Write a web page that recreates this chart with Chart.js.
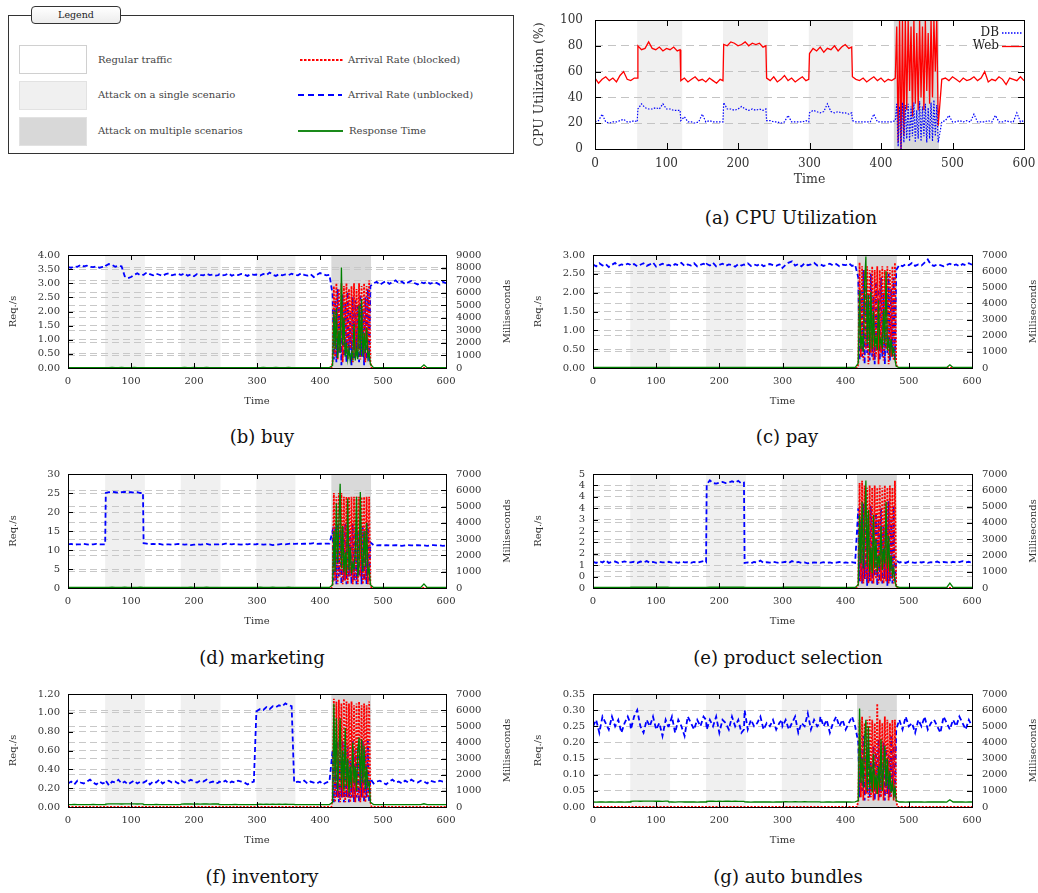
<!DOCTYPE html>
<html>
<head>
<meta charset="utf-8">
<script src="https://cdn.jsdelivr.net/npm/chart.js@4.4.1/dist/chart.umd.min.js"></script>
<style>
body { margin: 0; width: 1038px; height: 893px; position: relative; overflow: hidden; background: #fff; font-family: "DejaVu Serif", serif; color: #333; }
.abs { position: absolute; }
.cap { position: absolute; width: 320px; text-align: center; font-size: 18px; line-height: 22px; color: #111; }
.lg { position: absolute; font-size: 10px; line-height: 14px; color: #444; white-space: nowrap; }
.sw { position: absolute; left: 19px; width: 66px; height: 27px; border: 1px solid #d0d0d0; }
</style>
</head>
<body>

<!-- legend box -->
<div class="abs" style="left:8px;top:15px;width:504px;height:137px;border:1px solid #333;"></div>
<div class="abs" style="left:31px;top:6px;width:88px;height:16px;border:1px solid #333;border-radius:4px;background:linear-gradient(#fff,#ececec);font-size:9.5px;line-height:16px;text-align:center;color:#222;">Legend</div>
<div class="sw" style="top:45px;background:#fff;"></div>
<div class="sw" style="top:81px;background:#f0f0f0;border-color:#e2e2e2;"></div>
<div class="sw" style="top:117px;background:#d8d8d8;border-color:#e2e2e2;"></div>
<div class="lg" style="left:98px;top:53px;">Regular traffic</div>
<div class="lg" style="left:98px;top:88px;">Attack on a single scenario</div>
<div class="lg" style="left:98px;top:124px;">Attack on multiple scenarios</div>
<svg class="abs" style="left:296px;top:50px;" width="50" height="90">
  <line x1="4" y1="10" x2="47" y2="10" stroke="#ff0000" stroke-width="2" stroke-dasharray="2.5,1.5"/>
  <line x1="2" y1="45" x2="46" y2="45" stroke="#0000ff" stroke-width="2" stroke-dasharray="6,4"/>
  <line x1="2" y1="81" x2="47" y2="81" stroke="#1a8a1a" stroke-width="2"/>
</svg>
<div class="lg" style="left:348px;top:53px;">Arrival Rate (blocked)</div>
<div class="lg" style="left:348px;top:88px;">Arrival Rate (unblocked)</div>
<div class="lg" style="left:349px;top:124px;">Response Time</div>

<div class="cap" style="left:631px;top:207px;">(a) CPU Utilization</div>
<div class="cap" style="left:102px;top:426px;">(b) buy</div>
<div class="cap" style="left:627px;top:426px;">(c) pay</div>
<div class="cap" style="left:102px;top:647px;">(d) marketing</div>
<div class="cap" style="left:628px;top:647px;">(e) product selection</div>
<div class="cap" style="left:102px;top:866px;">(f) inventory</div>
<div class="cap" style="left:628px;top:866px;">(g) auto bundles</div>

<script>
// sample times: every 5 s (plus the second before each minute) up to 415,
// every 2 s during the multi-scenario attack, every 5 s afterwards
const T = [];
for (let m = 0; m < 6; m++) {
  for (let s = 0; s < 60; s += 5) T.push(60 * m + s);
  T.push(60 * m + 59);
}
for (let t = 360; t <= 415; t += 5) T.push(t);
for (let t = 420; t <= 480; t += 2) T.push(t);
for (let t = 485; t <= 600; t += 5) T.push(t);
// blocked traffic only exists during the multi-scenario attack
const TR = [0, 418];
for (let t = 420; t <= 480; t += 2) TR.push(t);
TR.push(482, 600);

const bandStart = [59, 179, 299, 418];
const bandEnd = [122, 242, 361, 481];
const bandMulti = [false, false, false, true];

// (a) CPU utilization
const cpuWeb = [
  55,51,54,56,53,55,52,57,60,54,53,55,55,
  80,77,78,83,78,77,79,76,78,77,79,76,77,
  53,55,52,54,56,53,54,52,55,53,51,54,53,
  81,80,83,82,80,81,83,80,82,81,82,79,80,
  55,53,56,52,54,57,53,55,52,54,56,53,54,
  74,78,76,79,75,78,77,80,76,79,81,78,79,
  56,54,53,55,52,54,56,53,55,52,54,53,
  55,95,5,100,0,100,10,100,30,100,45,95,25,100,35,90,30,100,40,95,30,100,45,90,35,100,40,100,60,100,18,
  54,55,53,56,54,52,55,53,54,56,53,55,60,52,54,53,56,54,50,55,54,53,56,53
];
const cpuDb = [
  21,22,27,21,20,21,21,22,23,21,21,22,21,
  31,35,32,31,31,32,31,35,31,31,30,30,30,
  22,25,21,21,20,21,27,21,22,21,21,21,21,
  36,31,31,30,31,33,31,30,31,30,31,30,31,
  22,22,21,21,20,21,26,21,21,21,21,22,21,
  28,30,29,28,29,35,29,28,29,28,28,27,28,
  22,21,21,21,21,21,27,21,21,21,21,21,
  22,35,2,33,0,36,5,34,8,35,6,33,10,36,5,30,8,37,6,33,10,35,5,32,8,36,6,38,10,34,5,
  21,22,26,21,21,22,21,22,21,27,21,21,21,22,21,26,21,21,22,21,21,28,21,22
];

// (b) buy
const buyUnblocked = [
  3.57,3.55,3.60,3.58,3.65,3.60,3.62,3.58,3.57,3.60,3.55,3.58,3.58,
  3.62,3.68,3.65,3.58,3.62,3.60,3.25,3.18,3.22,3.30,3.35,3.28,3.30,
  3.30,3.38,3.32,3.28,3.34,3.30,3.26,3.32,3.35,3.28,3.31,3.33,3.30,
  3.30,3.35,3.27,3.31,3.25,3.33,3.30,3.28,3.34,3.29,3.31,3.27,3.29,
  3.32,3.28,3.30,3.35,3.27,3.31,3.29,3.33,3.30,3.26,3.32,3.30,3.31,
  3.30,3.27,3.33,3.29,3.38,3.30,3.26,3.32,3.28,3.31,3.29,3.34,3.30,
  3.30,3.28,3.35,3.30,3.27,3.32,3.22,3.30,3.36,3.32,3.28,3.30,
  2.6,0.3,2.4,0.2,2.8,0.5,2.2,0.1,2.6,0.4,2.3,0.2,2.7,0.5,2.0,0.1,2.5,0.3,2.4,0.6,2.2,0.2,2.6,0.4,2.1,0.1,2.5,0.3,2.8,0.2,2.9,
  3.00,3.05,2.95,3.02,3.08,2.98,3.04,3.10,3.00,3.06,2.97,3.03,3.08,3.01,2.96,3.04,3.00,3.06,2.98,3.03,3.01,2.95,3.05,3.00
];
const buyBlocked = [0,0,
  0.2,2.9,0.4,3.0,0.3,2.8,0.6,3.0,0.2,2.9,0.5,3.0,0.3,2.8,0.7,2.9,0.2,3.0,0.4,2.8,0.6,3.0,0.3,2.9,0.5,3.0,0.2,2.9,0.4,3.1,0.2,
  0,0];
const buyResp = [
  30,30,35,30,30,30,35,30,30,30,30,30,30,
  35,35,40,35,35,40,35,35,35,40,35,35,35,
  30,30,30,35,30,30,30,30,35,30,30,30,30,
  35,40,35,35,40,35,35,35,40,35,35,35,35,
  30,30,30,30,35,30,30,30,30,30,35,30,30,
  35,35,40,35,35,35,40,35,35,35,40,35,35,
  30,30,35,30,30,30,30,35,30,30,30,30,
  200,4500,1500,4800,800,3000,1200,8000,1800,4000,900,2000,700,1500,600,1200,800,3500,600,1400,700,5000,1000,5500,900,2800,1200,3200,800,1200,300,
  30,30,35,30,30,30,30,35,30,30,30,30,30,30,35,30,250,30,30,30,35,30,30,30
];

// (c) pay
const payUnblocked = [
  2.75,2.70,2.78,2.72,2.76,2.68,2.74,2.79,2.71,2.75,2.73,2.77,2.74,
  2.72,2.76,2.70,2.74,2.78,2.71,2.75,2.80,2.69,2.73,2.77,2.72,2.73,
  2.74,2.70,2.76,2.73,2.79,2.71,2.75,2.72,2.78,2.70,2.74,2.77,2.72,
  2.76,2.72,2.79,2.70,2.74,2.77,2.71,2.75,2.73,2.69,2.76,2.72,2.75,
  2.74,2.78,2.71,2.75,2.72,2.77,2.70,2.74,2.76,2.73,2.71,2.75,2.73,
  2.66,2.74,2.80,2.83,2.72,2.76,2.70,2.78,2.73,2.75,2.79,2.72,2.74,
  2.75,2.71,2.74,2.77,2.72,2.76,2.70,2.74,2.73,2.78,2.71,2.74,
  2.4,0.2,2.1,0.3,2.6,0.1,2.2,0.4,2.0,0.2,2.5,0.3,1.9,0.1,2.3,0.5,2.1,0.2,2.4,0.3,2.0,0.1,2.2,0.4,2.5,0.2,2.1,0.3,2.4,0.2,2.6,
  2.74,2.70,2.76,2.73,2.79,2.71,2.75,2.72,2.80,2.88,2.74,2.71,2.75,2.73,2.70,2.74,2.77,2.72,2.75,2.70,2.76,2.73,2.78,2.74
];
const payBlocked = [0,0,
  0.1,2.8,0.3,2.7,0.2,2.6,0.5,2.7,0.1,2.6,0.4,2.7,0.2,2.6,0.3,2.7,0.1,2.6,0.4,2.7,0.2,2.6,0.5,2.7,0.1,2.6,0.3,2.7,0.2,2.8,0.1,
  0,0];
const payResp = [
  30,30,30,35,30,30,30,30,35,30,30,30,30,
  35,35,35,40,35,35,35,40,35,35,35,35,35,
  30,35,30,30,30,30,35,30,30,30,30,30,30,
  35,35,40,35,35,35,35,40,35,35,35,35,35,
  30,30,30,35,30,30,30,30,30,35,30,30,30,
  35,40,35,35,35,40,35,35,35,35,40,35,35,
  30,30,30,30,35,30,30,30,30,30,35,30,
  300,4800,1200,2000,1000,5200,6900,1500,4500,1000,4700,1200,3500,1300,2000,1100,4200,1400,1800,1200,3600,1500,6000,1100,1700,1000,1800,900,1200,500,100,
  30,30,30,35,30,30,30,30,30,35,30,30,30,30,30,30,200,30,30,35,30,30,30,30
];

// (d) marketing
const mktUnblocked = [
  11.5,11.6,11.4,11.5,11.5,11.6,11.5,11.4,11.5,11.6,11.5,11.5,11.5,
  25.0,25.2,25.3,25.2,25.1,25.2,25.3,25.2,25.2,25.1,25.2,25.0,25.1,
  11.8,11.7,11.5,11.6,11.5,11.6,11.4,11.5,11.5,11.4,11.5,11.6,11.5,
  11.5,11.4,11.5,11.3,11.4,11.5,11.4,11.5,11.6,11.4,11.5,11.5,11.5,
  11.6,11.5,11.7,11.6,11.5,11.6,11.5,11.4,11.6,11.5,11.6,11.5,11.5,
  11.6,11.5,11.4,11.5,11.5,11.3,11.4,11.5,11.6,11.5,11.6,11.7,11.6,
  11.6,11.7,11.6,11.7,11.6,11.7,11.8,11.6,11.7,11.6,11.7,11.7,
  15,2,16,1,17,3,15,1,16,2,17,1,16,3,15,1,17,2,16,1,15,3,17,1,16,2,15,1,17,2,12,
  11.3,11.2,11.3,11.2,11.3,11.2,11.2,11.3,11.2,11.1,11.2,11.3,11.2,11.2,11.3,11.2,11.2,11.1,11.2,11.3,11.2,11.2,11.1,11.2
];
const mktBlocked = [0,0,
  1,25,2,24,1,25,3,25,1,24,2,24,1,24,3,24,1,24,2,24,1,24,3,24,1,24,2,24,1,24,1,
  0,0];
const mktResp = [
  30,35,30,30,30,30,30,35,30,30,30,30,30,
  40,40,45,40,40,40,45,40,40,40,40,45,40,
  30,30,30,30,35,30,30,30,30,35,30,30,30,
  40,40,40,45,40,40,40,40,45,40,40,40,40,
  30,30,35,30,30,30,30,30,35,30,30,30,30,
  40,45,40,40,40,45,40,40,40,40,45,40,40,
  30,30,30,35,30,30,30,30,30,30,30,35,
  200,3500,1000,5200,1500,4000,6400,1200,3800,1000,2200,800,5500,1100,2500,900,1500,1200,2200,5600,700,1400,5900,2000,1000,3500,1300,4000,900,1200,200,
  30,30,30,30,35,30,30,30,30,30,30,35,30,30,30,30,250,30,30,30,30,35,30,30
];

// (e) product selection
const psUnblocked = [
  1.15,1.10,1.18,1.12,1.22,1.10,1.14,1.16,1.10,1.13,1.17,1.12,1.12,
  1.12,1.15,1.10,1.16,1.12,1.18,1.11,1.14,1.10,1.15,1.12,1.13,1.14,
  1.15,1.11,1.14,1.10,1.16,1.12,1.13,1.10,1.14,1.11,1.15,1.18,1.13,
  4.55,4.72,4.60,4.58,4.62,4.65,4.60,4.63,4.68,4.62,4.70,4.58,4.62,
  1.10,1.12,1.08,1.14,1.12,1.20,1.10,1.13,1.11,1.15,1.12,1.10,1.12,
  1.12,1.15,1.10,1.18,1.12,1.14,1.10,1.12,1.08,1.10,1.12,1.11,1.11,
  1.10,1.13,1.10,1.12,1.09,1.11,1.14,1.10,1.12,1.10,1.13,1.10,
  3.5,0.3,3.0,0.2,3.7,0.4,2.8,0.1,3.2,0.3,3.6,0.2,2.9,0.5,3.3,0.1,3.0,0.3,3.5,0.2,2.7,0.4,3.4,0.1,3.8,0.3,3.0,0.2,3.6,0.3,1.2,
  1.12,1.15,1.10,1.16,1.12,1.10,1.14,1.12,1.15,1.10,1.13,1.12,1.16,1.10,1.14,1.12,1.10,1.15,1.12,1.14,1.18,1.12,1.15,1.10
];
const psBlocked = [0,0,
  0.2,4.6,0.3,4.7,0.2,4.5,0.4,4.4,0.2,4.5,0.3,4.4,0.2,4.5,0.4,4.4,0.2,4.5,0.3,4.4,0.2,4.5,0.3,4.4,0.2,4.5,0.4,4.4,0.2,4.7,0.1,
  0,0];
const psResp = [
  35,35,35,40,35,35,35,35,40,35,35,35,35,
  45,45,50,45,45,45,50,45,45,45,50,45,45,
  35,35,40,35,35,35,35,35,40,35,35,35,35,
  45,50,45,45,45,50,45,45,45,45,50,45,45,
  35,35,35,35,40,35,35,35,35,40,35,35,35,
  45,45,50,45,45,45,45,50,45,45,45,45,45,
  35,35,40,35,35,35,35,35,35,40,35,35,
  200,4500,1500,5300,1200,3500,6600,1300,4800,1000,2500,900,4500,1200,3000,1000,2000,1300,3800,1100,2400,1500,5300,1200,3200,1000,2000,800,1200,400,100,
  35,35,35,40,35,35,35,35,35,35,40,35,35,35,35,35,300,35,35,35,40,35,35,35
];

// (f) inventory
const invUnblocked = [
  0.25,0.27,0.24,0.28,0.26,0.25,0.27,0.29,0.26,0.24,0.27,0.25,0.26,
  0.28,0.23,0.27,0.26,0.29,0.25,0.27,0.24,0.26,0.28,0.25,0.27,0.26,
  0.26,0.28,0.24,0.27,0.26,0.29,0.25,0.27,0.28,0.26,0.27,0.25,0.27,
  0.28,0.26,0.27,0.29,0.27,0.26,0.28,0.27,0.29,0.26,0.27,0.25,0.26,
  0.27,0.26,0.28,0.25,0.27,0.26,0.28,0.27,0.26,0.24,0.26,0.27,1.01,
  1.02,1.04,1.03,1.06,1.04,1.07,1.06,1.08,1.07,1.10,1.08,1.07,0.26,
  0.26,0.27,0.26,0.28,0.25,0.27,0.26,0.25,0.27,0.24,0.26,0.27,
  0.6,0.05,0.65,0.1,0.7,0.05,0.55,0.1,0.7,0.05,0.6,0.1,0.65,0.05,0.5,0.1,0.7,0.05,0.6,0.1,0.65,0.05,0.55,0.1,0.7,0.05,0.6,0.1,0.7,0.05,0.3,
  0.25,0.27,0.28,0.26,0.24,0.27,0.29,0.26,0.27,0.25,0.28,0.26,0.29,0.27,0.26,0.28,0.27,0.25,0.28,0.27,0.26,0.28,0.27,0.27
];
const invBlocked = [0,0,
  0.1,1.15,0.05,1.12,0.1,1.14,0.05,1.10,0.1,1.15,0.05,1.12,0.1,1.10,0.05,1.12,0.1,1.08,0.05,1.10,0.1,1.12,0.05,1.08,0.1,1.10,0.05,1.08,0.1,1.12,0.05,
  0,0];
const invResp = [
  150,145,155,150,148,152,150,146,154,150,148,152,150,
  185,190,195,188,192,186,194,190,188,192,186,190,190,
  155,150,148,152,156,150,149,153,150,147,152,150,150,
  180,185,190,186,182,188,184,190,186,183,188,185,185,
  152,150,148,153,150,155,149,151,150,148,152,150,150,
  165,170,168,172,166,170,168,171,167,170,168,166,168,
  150,148,152,150,147,151,150,153,149,150,148,152,
  300,6400,1500,5500,1000,3000,5500,1200,3500,1000,4900,1300,3000,900,2500,1200,4000,1500,2500,1000,3500,4300,1200,4200,1500,3800,1100,2500,1300,1500,300,
  150,152,148,150,153,149,151,150,148,152,150,149,151,150,153,148,200,150,149,152,150,148,151,150
];

// (g) auto bundles
const abUnblocked = [
  0.25,0.27,0.23,0.28,0.26,0.24,0.28,0.25,0.27,0.23,0.26,0.28,0.26,
  0.24,0.28,0.30,0.25,0.23,0.27,0.25,0.28,0.24,0.26,0.22,0.27,0.25,
  0.25,0.28,0.23,0.27,0.25,0.22,0.28,0.26,0.24,0.27,0.25,0.28,0.27,
  0.24,0.27,0.25,0.28,0.23,0.27,0.26,0.24,0.28,0.25,0.27,0.23,0.24,
  0.30,0.24,0.27,0.25,0.26,0.28,0.24,0.26,0.25,0.27,0.24,0.26,0.27,
  0.25,0.27,0.24,0.26,0.28,0.23,0.26,0.25,0.29,0.24,0.27,0.25,0.26,
  0.28,0.25,0.27,0.23,0.26,0.28,0.25,0.27,0.24,0.26,0.28,0.25,
  0.20,0.03,0.18,0.05,0.22,0.02,0.16,0.04,0.20,0.03,0.14,0.05,0.19,0.02,0.17,0.04,0.21,0.03,0.15,0.05,0.20,0.02,0.18,0.04,0.16,0.03,0.22,0.05,0.19,0.03,0.24,
  0.27,0.24,0.28,0.25,0.26,0.23,0.27,0.25,0.28,0.24,0.26,0.27,0.25,0.23,0.28,0.26,0.24,0.27,0.25,0.28,0.26,0.24,0.27,0.25
];
const abBlocked = [0,0,
  0.02,0.27,0.03,0.28,0.02,0.26,0.04,0.27,0.02,0.28,0.03,0.27,0.02,0.26,0.04,0.32,0.02,0.27,0.03,0.26,0.02,0.28,0.04,0.27,0.02,0.26,0.03,0.27,0.02,0.27,0.02,
  0,0];
const abResp = [
  310,305,315,310,308,312,310,306,314,310,308,312,310,
  350,360,365,355,362,370,358,365,355,360,352,358,358,
  315,310,308,312,316,310,309,313,310,307,312,310,310,
  345,355,360,352,358,350,362,355,348,356,350,345,350,
  312,310,308,313,310,315,309,311,310,308,312,310,310,
  320,325,318,322,326,320,318,324,320,322,318,315,320,
  310,308,312,310,307,311,310,313,309,310,308,312,
  400,6100,1500,3000,1200,4200,5400,1000,5000,1200,2500,900,3300,1100,2000,800,2500,1200,4200,1000,2400,3800,1300,3000,1100,2200,900,1500,700,1200,400,
  310,312,308,310,313,309,311,310,308,312,310,309,311,310,313,308,450,310,309,312,310,308,311,310
];

Chart.defaults.font.family = "'DejaVu Serif', serif";
Chart.defaults.color = '#333';
Chart.defaults.animation = false;

function pts(xs, ys, name) {
  if (xs.length !== ys.length) throw new Error(name + ': ' + ys.length + ' values for ' + xs.length + ' times');
  return xs.map((x, i) => ({ x: x, y: ys[i] }));
}

function addCanvas(left, top, w, h) {
  const c = document.createElement('canvas');
  c.width = w; c.height = h;
  c.style.cssText = 'position:absolute;left:' + left + 'px;top:' + top + 'px;';
  document.body.appendChild(c);
  return c;
}

// gnuplot look: shaded periods, black frame, inward ticks, axis titles, inner key
const gnuplotLook = {
  id: 'gp',
  beforeDraw(chart) {
    const { ctx, chartArea: a, scales } = chart;
    ctx.save();
    for (let i = 0; i < bandStart.length; i++) {
      const x1 = scales.x.getPixelForValue(bandStart[i]);
      const x2 = scales.x.getPixelForValue(bandEnd[i]);
      ctx.fillStyle = bandMulti[i] ? '#d9d9d9' : '#f0f0f0';
      ctx.fillRect(x1, a.top, x2 - x1, a.bottom - a.top);
    }
    ctx.restore();
  },
  afterDatasetsDraw(chart, args, o) {
    const { ctx, chartArea: a, scales } = chart;
    const L = o.tickLen;
    ctx.save();
    ctx.strokeStyle = '#000';
    ctx.lineWidth = 1;
    ctx.beginPath();
    scales.x.ticks.forEach(t => {
      const px = Math.round(scales.x.getPixelForValue(t.value)) + 0.5;
      ctx.moveTo(px, a.bottom); ctx.lineTo(px, a.bottom - L);
      ctx.moveTo(px, a.top); ctx.lineTo(px, a.top + L);
    });
    scales.y.ticks.forEach(t => {
      const py = Math.round(scales.y.getPixelForValue(t.value)) + 0.5;
      ctx.moveTo(a.left, py); ctx.lineTo(a.left + L, py);
      if (!scales.y2) { ctx.moveTo(a.right, py); ctx.lineTo(a.right - L, py); }
    });
    if (scales.y2) {
      scales.y2.ticks.forEach(t => {
        const py = Math.round(scales.y2.getPixelForValue(t.value)) + 0.5;
        ctx.moveTo(a.right, py); ctx.lineTo(a.right - L, py);
      });
    }
    ctx.stroke();
    ctx.strokeRect(Math.round(a.left) + 0.5, Math.round(a.top) + 0.5, Math.round(a.right - a.left), Math.round(a.bottom - a.top));
    ctx.restore();
  },
  afterDraw(chart, args, o) {
    const { ctx, chartArea: a } = chart;
    ctx.save();
    ctx.fillStyle = '#333';
    ctx.font = o.titleSize + "px 'DejaVu Serif'";
    ctx.textAlign = 'center';
    ctx.textBaseline = 'middle';
    const midY = (a.top + a.bottom) / 2;
    ctx.fillText(o.xTitle, (a.left + a.right) / 2, a.bottom + o.xOff);
    ctx.save();
    ctx.translate(a.left - o.yOff, midY); ctx.rotate(-Math.PI / 2);
    ctx.fillText(o.yTitle, 0, 0);
    ctx.restore();
    if (o.y2Title) {
      ctx.save();
      ctx.translate(a.right + o.y2Off, midY); ctx.rotate(-Math.PI / 2);
      ctx.fillText(o.y2Title, 0, 0);
      ctx.restore();
    }
    if (o.key) {
      ctx.textAlign = 'right';
      ctx.font = "12px 'DejaVu Serif'";
      o.key.forEach((k, i) => {
        const y = a.top + 12.5 + i * 13.5;
        ctx.fillStyle = '#222';
        ctx.fillText(k.text, a.right - 25, y);
        ctx.strokeStyle = k.color;
        ctx.lineWidth = 1.3;
        ctx.setLineDash(k.dash);
        ctx.beginPath(); ctx.moveTo(a.right - 22, y + 0.5); ctx.lineTo(a.right - 2, y + 0.5); ctx.stroke();
      });
    }
    ctx.restore();
  }
};

// (a) CPU utilization panel
(function () {
  const plot = [595, 20, 1024, 149];
  const mL = 70, mR = 34, mT = 26, mB = 50, xH = 26;
  const w = plot[2] - plot[0], h = plot[3] - plot[1];
  const canvas = addCanvas(plot[0] - mL, plot[1] - mT, w + mL + mR, h + mT + mB);
  new Chart(canvas, {
    type: 'line',
    data: {
      datasets: [
        { label: 'DB', data: pts(T, cpuDb, 'cpuDb'), borderColor: '#0000ff', borderWidth: 1.2, borderDash: [1.5, 1.5], pointRadius: 0 },
        { label: 'Web', data: pts(T, cpuWeb, 'cpuWeb'), borderColor: '#ff0000', borderWidth: 1.3, pointRadius: 0 }
      ]
    },
    plugins: [gnuplotLook],
    options: {
      responsive: false,
      layout: { padding: { top: mT, left: 0, right: mR, bottom: mB - xH } },
      plugins: {
        legend: { display: false }, tooltip: { enabled: false },
        gp: { tickLen: 6, titleSize: 12.5, xTitle: 'Time', yTitle: 'CPU Utilization (%)', xOff: 31, yOff: 55,
              key: [{ text: 'DB', color: '#0000ff', dash: [1.5, 1.5] }, { text: 'Web', color: '#ff0000', dash: [] }] }
      },
      scales: {
        x: { type: 'linear', min: 0, max: 600, afterFit: s => { s.height = xH; },
             ticks: { stepSize: 100, padding: 8, maxRotation: 0, autoSkip: false, font: { size: 12 } },
             grid: { display: false, drawTicks: false }, border: { display: false } },
        y: { min: 0, max: 100, afterFit: s => { s.width = mL; },
             ticks: { stepSize: 20, padding: 12, autoSkip: false, font: { size: 12 } },
             grid: { color: '#c4c4c4', drawTicks: false }, border: { display: false, dash: [8, 5] } }
      }
    }
  });
})();

function halfEven(v) {
  const r = Math.round(v);
  return String(Math.abs(v % 1) === 0.5 && r % 2 !== 0 ? r - 1 : r);
}

function makePanel(p) {
  const mL = 68, mR = 72, mT = 24, mB = 46, xH = 26;
  const w = p.plot[2] - p.plot[0], h = p.plot[3] - p.plot[1];
  const canvas = addCanvas(p.plot[0] - mL, p.plot[1] - mT, w + mL + mR, h + mT + mB);
  new Chart(canvas, {
    type: 'line',
    data: {
      datasets: [
        { label: 'Response Time', data: pts(T, p.resp, p.name + ' resp'), yAxisID: 'y2', borderColor: '#008000', borderWidth: 1.3, pointRadius: 0 },
        { label: 'Arrival Rate (blocked)', data: pts(TR, p.blocked, p.name + ' blocked'), yAxisID: 'y', borderColor: '#ff0000', borderWidth: 1.8, borderDash: [2, 1.5], pointRadius: 0 },
        { label: 'Arrival Rate (unblocked)', data: pts(T, p.unblocked, p.name + ' unblocked'), yAxisID: 'y', borderColor: '#0000ff', borderWidth: 1.8, borderDash: [5, 3], pointRadius: 0 }
      ]
    },
    plugins: [gnuplotLook],
    options: {
      responsive: false,
      layout: { padding: { top: mT, left: 0, right: 0, bottom: mB - xH } },
      plugins: {
        legend: { display: false }, tooltip: { enabled: false },
        gp: { tickLen: 5, titleSize: 10, xTitle: 'Time', yTitle: 'Req./s', y2Title: 'Milliseconds', xOff: 33, yOff: 55, y2Off: 61 }
      },
      scales: {
        x: { type: 'linear', min: 0, max: 600, afterFit: s => { s.height = xH; },
             ticks: { stepSize: 100, padding: 7, maxRotation: 0, autoSkip: false, font: { size: 10 } },
             grid: { display: false, drawTicks: false }, border: { display: false } },
        y: { position: 'left', min: 0, max: p.yMax, afterFit: s => { s.width = mL; },
             ticks: { stepSize: p.yStep, padding: 8, autoSkip: false, font: { size: 10 }, callback: p.yFmt },
             grid: { color: '#c8c8c8', drawTicks: false }, border: { display: false, dash: [7, 4] } },
        y2: { position: 'right', min: 0, max: p.y2Max, afterFit: s => { s.width = mR; },
              ticks: { stepSize: 1000, padding: 10, autoSkip: false, font: { size: 10 }, callback: v => String(v) },
              grid: { color: '#c8c8c8', drawTicks: false }, border: { display: false, dash: [7, 4] } }
      }
    }
  });
}

const fix2 = v => v.toFixed(2);
const fix0 = v => String(v);

makePanel({ name: 'buy', plot: [68, 255, 446, 368], yMax: 4, yStep: 0.5, yFmt: fix2, y2Max: 9000,
  unblocked: buyUnblocked, blocked: buyBlocked, resp: buyResp });
makePanel({ name: 'pay', plot: [593, 255, 972, 368], yMax: 3, yStep: 0.5, yFmt: fix2, y2Max: 7000,
  unblocked: payUnblocked, blocked: payBlocked, resp: payResp });
makePanel({ name: 'marketing', plot: [68, 474, 446, 588], yMax: 30, yStep: 5, yFmt: fix0, y2Max: 7000,
  unblocked: mktUnblocked, blocked: mktBlocked, resp: mktResp });
makePanel({ name: 'product selection', plot: [593, 474, 972, 588], yMax: 5, yStep: 0.5, yFmt: halfEven, y2Max: 7000,
  unblocked: psUnblocked, blocked: psBlocked, resp: psResp });
makePanel({ name: 'inventory', plot: [68, 694, 446, 807], yMax: 1.2, yStep: 0.2, yFmt: fix2, y2Max: 7000,
  unblocked: invUnblocked, blocked: invBlocked, resp: invResp });
makePanel({ name: 'auto bundles', plot: [593, 694, 972, 807], yMax: 0.35, yStep: 0.05, yFmt: fix2, y2Max: 7000,
  unblocked: abUnblocked, blocked: abBlocked, resp: abResp });
</script>
</body>
</html>
